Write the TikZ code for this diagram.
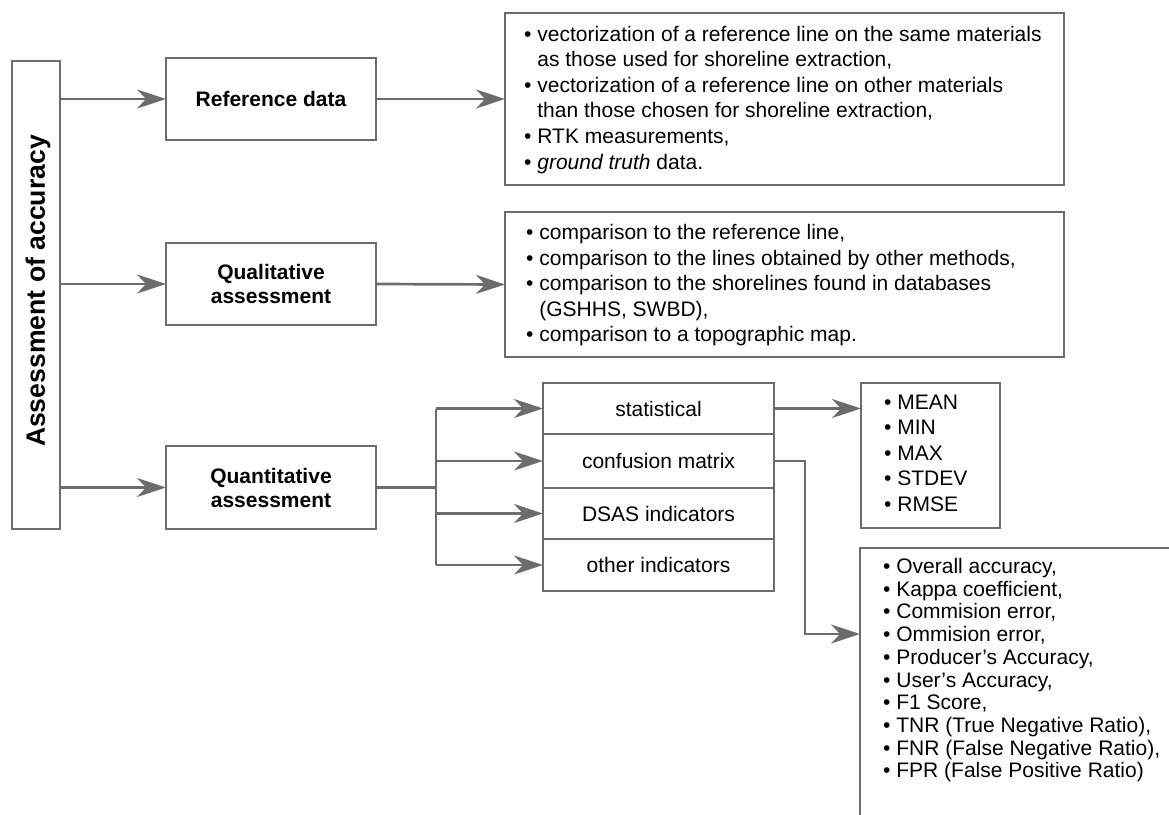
\documentclass[tikz,border=0pt]{standalone}
\usepackage{fontspec}
\setmainfont{Liberation Sans}
\usetikzlibrary{arrows.meta}
\definecolor{linegray}{RGB}{108,108,108}
\begin{document}
\begin{tikzpicture}[x=1pt,y=-1pt,
  line/.style={draw=linegray, line width=2.7pt},
  arr/.style={line, -{Stealth[length=29pt,width=19pt,inset=9pt]}},
  box/.style={draw=linegray, line width=2.7pt, rectangle, inner sep=0pt, outer sep=0pt},
  lbl/.style={font=\fontsize{21}{24}\selectfont\bfseries, align=center, inner sep=0pt},
  plain/.style={font=\fontsize{21}{24}\selectfont, inner sep=0pt},
  list/.style={anchor=base west, inner sep=0pt, font=\fontsize{21}{25.6}\selectfont},
]
\useasboundingbox (0,0) rectangle (1169,814);
\clip (0,0) rectangle (1169,814);

% left vertical box
\node[box, minimum width=48pt, minimum height=468pt] (acc) at (36,295) {};
\node[lbl, rotate=90, font=\fontsize{26.6}{30}\selectfont\bfseries] (acclabel) at (38,291) {Assessment of accuracy};

% second column
\node[box, minimum width=210pt, minimum height=82pt] (ref) at (271,99) {};
\node[lbl] (reflabel) at (ref.center) {Reference data};
\node[box, minimum width=210pt, minimum height=82pt] (qual) at (271,284) {};
\node[lbl] (quallabel) at (qual.center) {Qualitative\\assessment};
\node[box, minimum width=210pt, minimum height=83pt] (quant) at (271,487.5) {};
\node[lbl] (quantlabel) at (quant.center) {Quantitative\\assessment};

\draw[arr] (acc.east |- ref.west) -- (ref.west);
\draw[arr] (acc.east |- qual.west) -- (qual.west);
\draw[arr] (acc.east |- quant.west) -- (quant.west);

% reference data list
\node[box, minimum width=559pt, minimum height=172pt] (reftext) at (784.5,99) {};
\node[list] (reflist) at (524,41) {\begin{tabular}[t]{@{}l@{}}
• vectorization of a reference line on the same materials\\
\hphantom{• }as those used for shoreline extraction,\\
• vectorization of a reference line on other materials\\
\hphantom{• }than those chosen for shoreline extraction,\\
• RTK measurements,\\
• \textit{ground truth} data.
\end{tabular}};
\draw[arr] (ref.east) -- (reftext.west);

% qualitative list
\node[box, minimum width=559pt, minimum height=145pt] (qualtext) at (784.5,284.5) {};
\node[list] (quallist) at (526,239.5) {\begin{tabular}[t]{@{}l@{}}
• comparison to the reference line,\\
• comparison to the lines obtained by other methods,\\
• comparison to the shorelines found in databases\\
\hphantom{• }(GSHHS, SWBD),\\
• comparison to a topographic map.
\end{tabular}};
\draw[arr] (qual.east) -- (qualtext.west);

% quantitative branches
\node[box, minimum width=231pt, minimum height=51pt] (stat) at (658.5,408.5) {};
\node[plain] (statlabel) at (stat.center) {statistical};
\node[box, minimum width=231pt, minimum height=54pt] (conf) at (658.5,461) {};
\node[plain] (conflabel) at (conf.center) {confusion matrix};
\node[box, minimum width=231pt, minimum height=51pt] (dsas) at (658.5,513.5) {};
\node[plain] (dsaslabel) at (dsas.center) {DSAS indicators};
\node[box, minimum width=231pt, minimum height=52pt] (other) at (658.5,565) {};
\node[plain] (otherlabel) at (other.center) {other indicators};

\coordinate (j) at (436,0);
\draw[line] (quant.east) -- (quant.east -| j);
\draw[line] (j |- stat.west) -- (j |- other.west);
\draw[arr] (j |- stat.west) -- (stat.west);
\draw[arr] (j |- conf.west) -- (conf.west);
\draw[arr] (j |- dsas.west) -- (dsas.west);
\draw[arr] (j |- other.west) -- (other.west);

% statistical list
\node[box, minimum width=139pt, minimum height=145pt] (stattext) at (930.5,455.5) {};
\node[list] (statlist) at (884,409) {\begin{tabular}[t]{@{}l@{}}
• MEAN\\
• MIN\\
• MAX\\
• STDEV\\
• RMSE
\end{tabular}};
\draw[arr] (stat.east) -- (stat.east -| stattext.west);

% confusion matrix list
\node[box, minimum width=340pt, minimum height=292pt] (conftext) at (1030,694) {};
\node[list, font=\fontsize{21}{22.7}\selectfont] (conflist) at (883,573.5) {\begin{tabular}[t]{@{}l@{}}
• Overall accuracy,\\
• Kappa coefficient,\\
• Commision error,\\
• Ommision error,\\
• Producer’s Accuracy,\\
• User’s Accuracy,\\
• F1 Score,\\
• TNR (True Negative Ratio),\\
• FNR (False Negative Ratio),\\
• FPR (False Positive Ratio)
\end{tabular}};
\coordinate (cbend) at (805,0);
\coordinate (cin) at (860,634);
\draw[arr] (conf.east) -- (conf.east -| cbend) |- (cin);
\end{tikzpicture}
\end{document}
